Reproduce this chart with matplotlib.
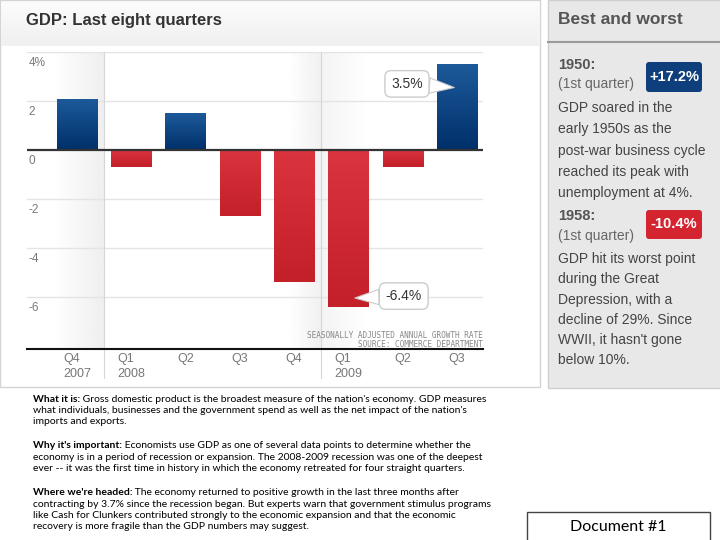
import numpy as np
import matplotlib
matplotlib.use("Agg")
import matplotlib.pyplot as plt
from matplotlib.patches import Rectangle, FancyBboxPatch
from matplotlib.colors import LinearSegmentedColormap

# data
quarters = ["Q4\n2007", "Q1\n2008", "Q2", "Q3", "Q4", "Q1\n2009", "Q2", "Q3"]
gdp_growth = [2.1, -0.7, 1.5, -2.7, -5.4, -6.4, -0.7, 3.5]
y_ticks = [4, 2, 0, -2, -4, -6]
y_tick_labels = ["4%", "2", "0", "-2", "-4", "-6"]

best_year, best_value = "1950:", "+17.2%"
worst_year, worst_value = "1958:", "-10.4%"
best_text = ["GDP soared in the", "early 1950s as the", "post-war business cycle",
             "reached its peak with", "unemployment at 4%."]
worst_text = ["GDP hit its worst point", "during the Great", "Depression, with a",
              "decline of 29%. Since", "WWII, it hasn't gone", "below 10%."]

notes = [
    ("What it is:", [" Gross domestic product is the broadest measure of the nation's economy. GDP measures",
                     "what individuals, businesses and the government spend as well as the net impact of the nation's",
                     "imports and exports."]),
    ("Why it's important:", [" Economists use GDP as one of several data points to determine whether the",
                             "economy is in a period of recession or expansion. The 2008-2009 recession was one of the deepest",
                             "ever -- it was the first time in history in which the economy retreated for four straight quarters."]),
    ("Where we're headed:", [" The economy returned to positive growth in the last three months after",
                             "contracting by 3.7% since the recession began. But experts warn that government stimulus programs",
                             "like Cash for Clunkers contributed strongly to the economic expansion and that the economic",
                             "recovery is more fragile than the GDP numbers may suggest."]),
]

W, H = 720, 540
fig = plt.figure(figsize=(7.2, 5.4), dpi=100)
fig.patch.set_facecolor("white")

# background layer in pixel coordinates
bg = fig.add_axes([0, 0, 1, 1])
bg.set_xlim(0, W)
bg.set_ylim(H, 0)
bg.axis("off")

# left chart panel
bg.add_patch(Rectangle((0, 0), 540, 387, fc="white", ec="#d4d4d4", lw=1))
head = np.linspace(0, 1, 50).reshape(-1, 1)
bg.imshow(head, extent=(1, 539, 46, 2), cmap=LinearSegmentedColormap.from_list("h", ["#fcfcfc", "#f0f0f0"]),
          aspect="auto", zorder=1)
bg.text(26, 21, "GDP: Last eight quarters", fontsize=12, fontweight="bold", color="#333333",
        family="Liberation Sans", va="center", zorder=3)

# right panel
bg.add_patch(Rectangle((548, 0), 175, 388, fc="#e8e8e8", ec="#cfcfcf", lw=1))
bg.plot([548, 720], [42, 42], color="#9a9a9a", lw=1.5)
bg.text(558, 20, "Best and worst", fontsize=12.5, fontweight="bold", color="#555555",
        family="Liberation Sans", va="center")

bg.text(558, 65, best_year, fontsize=10.5, fontweight="bold", color="#555555", family="Liberation Sans", va="center")
bg.text(558, 84, "(1st quarter)", fontsize=10, color="#666666", family="Liberation Sans", va="center")
bg.add_patch(FancyBboxPatch((646, 62), 56, 30, boxstyle="round,pad=0,rounding_size=3",
                            fc="#0e3f7c", ec="none"))
bg.text(674, 77, best_value, fontsize=10.5, fontweight="bold", color="white", family="Liberation Sans",
        ha="center", va="center")
for i, line in enumerate(best_text):
    bg.text(558, 108 + i * 21.3, line, fontsize=10, color="#444444", family="Liberation Sans", va="center")

bg.text(558, 216, worst_year, fontsize=10.5, fontweight="bold", color="#555555", family="Liberation Sans", va="center")
bg.text(558, 236, "(1st quarter)", fontsize=10, color="#666666", family="Liberation Sans", va="center")
bg.add_patch(FancyBboxPatch((646, 210), 56, 29, boxstyle="round,pad=0,rounding_size=3",
                            fc="#d42430", ec="none"))
bg.text(674, 224.5, worst_value, fontsize=10.5, fontweight="bold", color="white", family="Liberation Sans",
        ha="center", va="center")
for i, line in enumerate(worst_text):
    bg.text(558, 259 + i * 20.3, line, fontsize=10, color="#444444", family="Liberation Sans", va="center")

# notes below
fig.canvas.draw()
renderer = fig.canvas.get_renderer()
y0 = 399
for head_txt, lines in notes:
    t = bg.text(33, y0, head_txt, fontsize=7.5, fontweight="bold", color="black", family="Lato", va="center")
    bb = t.get_window_extent(renderer)
    bg.text(bb.x1, y0, lines[0], fontsize=7.5, color="black", family="Lato", va="center")
    for j, line in enumerate(lines[1:], start=1):
        bg.text(33, y0 + j * 11.3, line, fontsize=7.5, color="black", family="Lato", va="center")
    y0 += len(lines) * 11.3 + 13

bg.add_patch(Rectangle((527, 512), 183, 30, fc="white", ec="#444444", lw=1))
bg.text(618, 527, "Document #1", fontsize=11.5, color="black", family="Lato", ha="center", va="center")

# main chart
ax = fig.add_axes([27 / W, 1 - 349 / H, 456 / W, 297 / H])
ax.set_xlim(-0.92, 7.48)
ax.set_ylim(-8.12, 4.0)
ax.patch.set_alpha(0)

# soft shading around the year separators
xs = np.linspace(-0.92, 7.48, 400)
shade = np.interp(xs, [-0.92, -0.45, 0.49, 0.51, 0.9, 3.9, 4.49, 4.51, 5.4, 7.48],
                  [0, 0, 0.065, 0, 0, 0, 0.055, 0.045, 0, 0])
ax.imshow(shade.reshape(1, -1), extent=(-0.92, 7.48, -8.12, 4.0), aspect="auto",
          cmap=LinearSegmentedColormap.from_list("s", ["#ffffff", "#000000"]), vmin=0, vmax=1, zorder=0)

for v in y_ticks:
    if v != 0:
        ax.axhline(v, color="#e4e4e4", lw=1, zorder=1)
for xv in [0.5, 4.5]:
    ax.plot([xv, xv], [4.0, -9.3], color="#d6d6d6", lw=0.8, clip_on=False, zorder=1)

colors = ["#0b4787" if v > 0 else "#d42a35" for v in gdp_growth]
bars = ax.bar(range(len(gdp_growth)), gdp_growth, width=0.74, color=colors, zorder=2)
blue_cm = LinearSegmentedColormap.from_list("b", ["#1d5a9a", "#00306a"])
red_cm = LinearSegmentedColormap.from_list("r", ["#da343e", "#c42029"])
grad = np.linspace(0, 1, 64).reshape(-1, 1)
for b, v in zip(bars, gdp_growth):
    x0, w = b.get_x(), b.get_width()
    top, bot = max(v, 0), min(v, 0)
    im = ax.imshow(grad, extent=(x0, x0 + w, bot, top), aspect="auto",
                   cmap=blue_cm if v > 0 else red_cm, zorder=2.5)
    im.set_clip_path(b)

ax.axhline(0, color="#333333", lw=1.6, zorder=3)

for v, lab in zip(y_ticks, y_tick_labels):
    ax.text(0.003, v - 0.2, lab, transform=ax.get_yaxis_transform(), fontsize=8.5, color="#7a7a7a",
            family="Liberation Sans", va="top", ha="left")

ax.set_xticks(range(len(quarters)))
ax.set_xticklabels(quarters, fontsize=9, color="#777777", family="Liberation Sans",
                   multialignment="left", linespacing=1.35)
ax.tick_params(axis="x", length=0, pad=3)
ax.set_yticks([])
for s in ["top", "left", "right"]:
    ax.spines[s].set_visible(False)
ax.spines["bottom"].set_color("#111111")
ax.spines["bottom"].set_linewidth(1.5)

ax.text(1.0, -7.55, "SEASONALLY ADJUSTED ANNUAL GROWTH RATE", transform=ax.get_yaxis_transform(),
        fontsize=5.6, color="#888888", family="DejaVu Sans Mono", ha="right", va="center")
ax.text(1.0, -7.92, "SOURCE: COMMERCE DEPARTMENT", transform=ax.get_yaxis_transform(),
        fontsize=5.6, color="#888888", family="DejaVu Sans Mono", ha="right", va="center")

box = dict(boxstyle="round,pad=0.45", fc="white", ec="#cccccc", lw=1)
arrow = dict(arrowstyle="wedge,tail_width=1.1,shrink_factor=0.5", fc="white", ec="#cccccc", lw=0.8,
             shrinkA=0, shrinkB=0)
ax.annotate("3.5%", xy=(6.95, 2.55), xytext=(6.08, 2.7), fontsize=10, color="#333333",
            family="Liberation Sans", ha="center", va="center", bbox=box, zorder=5, arrowprops=arrow)
ax.annotate("-6.4%", xy=(5.12, -6.04), xytext=(6.02, -5.96), fontsize=10, color="#333333",
            family="Liberation Sans", ha="center", va="center", bbox=box, zorder=5, arrowprops=arrow)

fig.savefig("out.png", dpi=100)
